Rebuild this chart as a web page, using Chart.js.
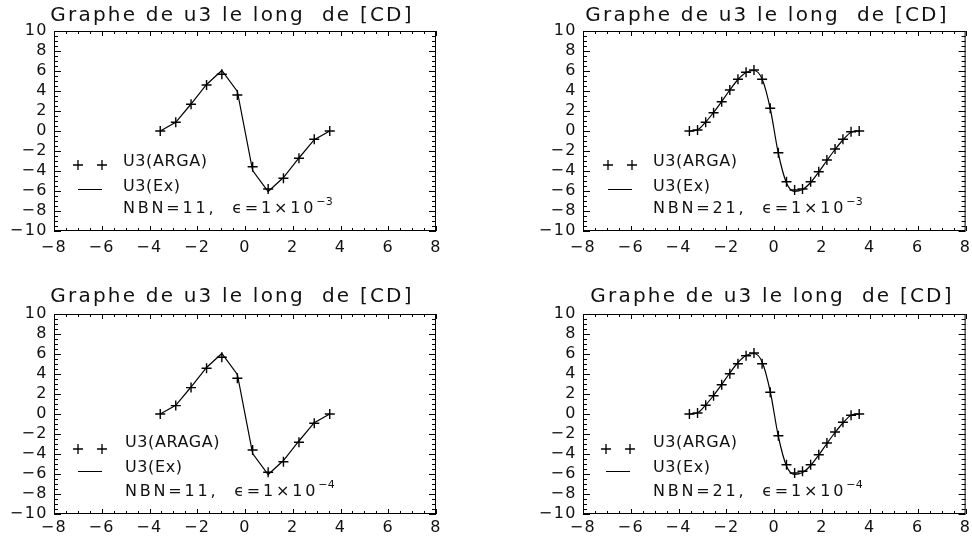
<!DOCTYPE html>
<html>
<head>
<meta charset="utf-8">
<script src="https://cdn.jsdelivr.net/npm/chart.js@4.4.0/dist/chart.umd.min.js"></script>
<style>
  body { margin: 0; background: #fff; width: 972px; height: 541px; position: relative; overflow: hidden; }
  .panel { position: absolute; }
  canvas { display: block; }
</style>
</head>
<body>
<div class="panel" style="left:0;top:0"><canvas id="p1" width="486" height="270"></canvas></div>
<div class="panel" style="left:486px;top:0"><canvas id="p2" width="486" height="270"></canvas></div>
<div class="panel" style="left:0;top:283px"><canvas id="p3" width="486" height="258"></canvas></div>
<div class="panel" style="left:486px;top:283px"><canvas id="p4" width="486" height="258"></canvas></div>
<script>
// nodes along [CD]
const x11 = [-3.55, -2.90, -2.26, -1.61, -0.97, -0.32, 0.32, 0.97, 1.61, 2.26, 2.90, 3.55];
const x21 = [-3.55, -3.21, -2.87, -2.54, -2.20, -1.86, -1.52, -1.18, -0.85, -0.51, -0.17,
             0.17, 0.51, 0.85, 1.18, 1.52, 1.86, 2.20, 2.54, 2.87, 3.21, 3.55];

// exact u3
const exact11 = [0, 0.87, 2.70, 4.65, 6.05, 3.95, -3.95, -6.05, -4.65, -2.70, -0.87, 0];
const exact21 = [0, 0.12, 0.90, 1.85, 2.95, 4.10, 5.15, 5.85, 6.05, 5.20, 2.25,
                 -2.25, -5.20, -6.05, -5.85, -5.15, -4.10, -2.95, -1.85, -0.90, -0.12, 0];

// ARGA approximations
const arga11e3 = [0, 0.87, 2.67, 4.60, 5.67, 3.60, -3.57, -5.80, -4.73, -2.73, -0.83, 0];
const arga11e4 = [0, 0.84, 2.64, 4.57, 5.67, 3.57, -3.60, -5.83, -4.77, -2.83, -0.93, 0];
const arga21e3 = [0, 0.10, 0.87, 1.83, 2.93, 4.10, 5.17, 5.87, 6.10, 5.17, 2.27,
                  -2.17, -5.07, -5.90, -5.80, -5.07, -4.07, -2.90, -1.80, -0.83, -0.07, 0];
const arga21e4 = [0, 0.10, 0.87, 1.83, 2.93, 4.03, 5.03, 5.83, 6.10, 5.03, 2.17,
                  -2.17, -5.07, -5.90, -5.73, -5.07, -4.07, -2.90, -1.80, -0.83, -0.13, 0];

const xTicks = [-8, -6, -4, -2, 0, 2, 4, 6, 8];
const yTicks = [-10, -8, -6, -4, -2, 0, 2, 4, 6, 8, 10];

const titleText = 'Graphe de u3 le long  de [CD]';
const FONT = "'DejaVu Sans', sans-serif";
const INK = '#111';

const pts = (xs, ys) => xs.map((x, i) => ({ x, y: ys[i] }));
const fmt = v => (v < 0 ? '\u2212' + Math.abs(v) : String(v));

// wider spacing for the tick labels
const spacing = {
  id: 'spacing',
  beforeDraw(chart) { chart.ctx.letterSpacing = '1.5px'; }
};

// box with inward ticks on all four sides
const frameTicks = {
  id: 'frameTicks',
  afterDraw(chart) {
    const { ctx, chartArea: a, scales: { x, y } } = chart;
    ctx.save();
    ctx.strokeStyle = '#000';
    ctx.lineWidth = 1;
    ctx.strokeRect(a.left + 0.5, a.top + 0.5, a.width - 1, a.height - 1);
    ctx.beginPath();
    for (let i = 0; i <= (x.max - x.min) * 2; i++) {
      const v = x.min + i / 2;
      const px = Math.round(x.getPixelForValue(v)) + 0.5;
      const len = v % 2 === 0 ? 5 : 3;
      ctx.moveTo(px, a.bottom); ctx.lineTo(px, a.bottom - len);
      ctx.moveTo(px, a.top); ctx.lineTo(px, a.top + len);
    }
    for (let i = 0; i <= (y.max - y.min) * 2; i++) {
      const v = y.min + i / 2;
      const py = Math.round(y.getPixelForValue(v)) + 0.5;
      const len = v % 2 === 0 ? 7 : 4;
      ctx.moveTo(a.left, py); ctx.lineTo(a.left + len, py);
      ctx.moveTo(a.right, py); ctx.lineTo(a.right - len, py);
    }
    ctx.stroke();
    ctx.restore();
  }
};

// title and the in-plot key
const panelText = {
  id: 'panelText',
  afterDraw(chart, args, o) {
    const ctx = chart.ctx;
    ctx.save();
    ctx.fillStyle = INK;
    ctx.strokeStyle = '#000';
    ctx.textBaseline = 'alphabetic';

    ctx.font = `20px ${FONT}`;
    ctx.letterSpacing = '2.2px';
    ctx.textAlign = 'center';
    ctx.fillText(titleText, o.titleX, o.titleY);

    ctx.textAlign = 'left';
    ctx.font = `16px ${FONT}`;
    ctx.letterSpacing = '0.6px';
    const k = o.key;
    ctx.fillText(o.argaLabel, k.textX, k.row1);
    ctx.fillText('U3(Ex)', k.textX, k.row2);
    ctx.letterSpacing = '2.8px';
    const head = `NBN=${o.nbn},  \u03f5=1\u00d710`;
    ctx.fillText(head, k.textX, k.row3);
    const w = ctx.measureText(head).width;
    ctx.font = `11px ${FONT}`;
    ctx.letterSpacing = '0.5px';
    ctx.fillText('\u2212' + o.exp, k.textX + w, k.row3 - 8);

    // key symbols
    ctx.lineWidth = 1.3;
    ctx.beginPath();
    k.crossX.forEach(cx => {
      ctx.moveTo(cx - 5, k.crossY); ctx.lineTo(cx + 5, k.crossY);
      ctx.moveTo(cx, k.crossY - 5); ctx.lineTo(cx, k.crossY + 5);
    });
    ctx.stroke();
    ctx.lineWidth = 1;
    ctx.beginPath();
    ctx.moveTo(k.lineX[0], k.lineY + 0.5);
    ctx.lineTo(k.lineX[1], k.lineY + 0.5);
    ctx.stroke();
    ctx.restore();
  }
};

function makePanel(id, cfg) {
  const canvas = document.getElementById(id);
  const W = canvas.width, H = canvas.height;
  return new Chart(canvas, {
    type: 'scatter',
    data: {
      datasets: [
        {
          label: 'U3(Ex)',
          data: pts(cfg.xs, cfg.exact),
          showLine: true,
          borderColor: '#000',
          borderWidth: 1.2,
          pointRadius: 0,
          tension: 0,
          cubicInterpolationMode: cfg.smooth ? 'monotone' : 'default',
          order: 2
        },
        {
          label: cfg.argaLabel,
          data: pts(cfg.xs, cfg.arga),
          showLine: false,
          pointStyle: 'cross',
          pointRadius: 5,
          borderColor: '#000',
          borderWidth: 1.4,
          order: 1
        }
      ]
    },
    options: {
      responsive: false,
      animation: false,
      devicePixelRatio: 1,
      layout: { padding: { top: 31, right: W - cfg.right, bottom: 0, left: 0 } },
      plugins: {
        legend: { display: false },
        tooltip: { enabled: false },
        panelText: {
          titleX: cfg.titleX, titleY: cfg.titleY,
          argaLabel: cfg.argaLabel, nbn: cfg.nbn, exp: cfg.exp, key: cfg.key
        }
      },
      scales: {
        x: {
          type: 'linear', min: -8, max: 8,
          grid: { display: false, drawTicks: false },
          border: { display: false },
          afterBuildTicks: s => { s.ticks = xTicks.map(value => ({ value })); },
          afterFit: s => { s.height = H - 31 - 200; s.paddingLeft = 0; s.paddingRight = 0; },
          ticks: {
            padding: cfg.xPad, maxRotation: 0, autoSkip: false, color: INK,
            font: { family: FONT, size: 16 },
            callback: fmt
          }
        },
        y: {
          type: 'linear', min: -10, max: 10,
          grid: { display: false, drawTicks: false },
          border: { display: false },
          afterBuildTicks: s => { s.ticks = yTicks.map(value => ({ value })); },
          afterFit: s => { s.width = cfg.left; s.paddingTop = 0; s.paddingBottom = 0; },
          ticks: {
            padding: 6, autoSkip: false, color: INK,
            font: { family: FONT, size: 16 },
            callback: fmt
          }
        }
      }
    },
    plugins: [spacing, frameTicks, panelText]
  });
}

const keyTop = { crossX: [78, 102], crossY: 165, lineX: [78, 102], lineY: 189, textX: 123, row1: 166, row2: 191, row3: 213 };
const keyBot = { crossX: [78, 102], crossY: 166, lineX: [78, 102], lineY: 188, textX: 125, row1: 164, row2: 189, row3: 213 };
const shift = (k, dx) => ({ ...k, crossX: k.crossX.map(v => v + dx), lineX: k.lineX.map(v => v + dx), textX: k.textX + dx });

makePanel('p1', {
  xs: x11, exact: exact11, arga: arga11e3, argaLabel: 'U3(ARGA)', nbn: 11, exp: 3,
  left: 54, right: 436, xPad: 7, titleX: 232, titleY: 21, key: keyTop
});
makePanel('p2', {
  xs: x21, exact: exact21, arga: arga21e3, argaLabel: 'U3(ARGA)', nbn: 21, exp: 3, smooth: true,
  left: 97, right: 482, xPad: 7, titleX: 281, titleY: 21, key: shift(keyTop, 529 - 486 + 1)
});
makePanel('p3', {
  xs: x11, exact: exact11, arga: arga11e4, argaLabel: 'U3(ARAGA)', nbn: 11, exp: 4,
  left: 54, right: 436, xPad: 4, titleX: 232, titleY: 19, key: keyBot
});
makePanel('p4', {
  xs: x21, exact: exact21, arga: arga21e4, argaLabel: 'U3(ARGA)', nbn: 21, exp: 4, smooth: true,
  left: 97, right: 482, xPad: 4, titleX: 286, titleY: 19, key: shift(keyBot, 529 - 486 - 1)
});
</script>
</body>
</html>
